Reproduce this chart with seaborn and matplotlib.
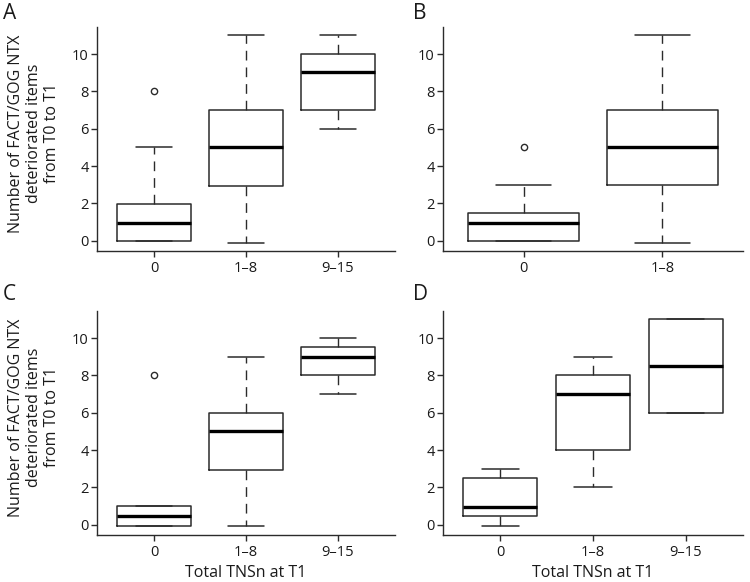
import matplotlib
matplotlib.use("Agg")
import matplotlib.pyplot as plt
import seaborn as sns

# group labels on the x axis
groups_3 = ["0", "1–8", "9–15"]
groups_2 = ["0", "1–8"]

# box summaries: whisker low, Q1, median, Q3, whisker high, outliers
a_low = [0, -0.1, 6]
a_q1 = [0, 2.95, 7]
a_med = [0.95, 5, 9.05]
a_q3 = [1.95, 7, 10]
a_high = [5, 11, 11]
a_out = [[8], [], []]

b_low = [0, -0.1]
b_q1 = [0, 3]
b_med = [0.95, 5]
b_q3 = [1.5, 7]
b_high = [3, 11]
b_out = [[5], []]

c_low = [-0.05, -0.05, 7]
c_q1 = [-0.05, 2.95, 8]
c_med = [0.45, 5, 9]
c_q3 = [1, 6, 9.5]
c_high = [1, 9, 10]
c_out = [[8], [], []]

d_low = [-0.05, 2, 6]
d_q1 = [0.45, 4, 6]
d_med = [0.95, 7, 8.5]
d_q3 = [2.5, 8, 11]
d_high = [3, 9, 11]
d_out = [[], [], []]

sns.set_style("ticks")
plt.rcParams["font.family"] = ["Open Sans", "DejaVu Sans"]

ylabel = "Number of FACT/GOG NTX\ndeteriorated items\nfrom T0 to T1"
xlabel = "Total TNSn at T1"
line_col = "#2b2b2b"


def draw_panel(ax, groups, low, q1, med, q3, high, out, show_y, show_x):
    stats = []
    for i, g in enumerate(groups):
        stats.append({"label": g, "whislo": low[i], "q1": q1[i], "med": med[i],
                      "q3": q3[i], "whishi": high[i], "fliers": out[i]})
    n = len(groups)
    ax.bxp(stats, positions=list(range(1, n + 1)), widths=0.8, capwidths=0.4,
           boxprops=dict(color=line_col, linewidth=1.1),
           medianprops=dict(color="black", linewidth=2.4),
           whiskerprops=dict(color=line_col, linewidth=1.0, linestyle=(0, (7, 5))),
           capprops=dict(color=line_col, linewidth=1.1),
           flierprops=dict(marker="o", markersize=4.5, markerfacecolor="none",
                           markeredgecolor=line_col, markeredgewidth=1.0))
    ax.set_xlim(0.5 - 0.04 * n, n + 0.5 + 0.04 * n)
    ax.set_ylim(-0.55, 11.45)
    ax.set_yticks([0, 2, 4, 6, 8, 10])
    sns.despine(ax=ax)
    for s in ["left", "bottom"]:
        ax.spines[s].set_color(line_col)
        ax.spines[s].set_linewidth(1.0)
    ax.tick_params(axis="both", labelsize=10.5, length=4.5, width=1.0,
                   color=line_col, labelcolor="#1a1a1a")
    ax.tick_params(axis="y", pad=1.5)
    ax.tick_params(axis="x", pad=3)
    if show_y:
        ax.set_ylabel(ylabel, fontsize=11.5, color="#1a1a1a", linespacing=1.15)
        ax.yaxis.set_label_coords(-0.125, 0.525)
    if show_x:
        ax.set_xlabel(xlabel, fontsize=11.5, color="#1a1a1a", labelpad=3)


fig = plt.figure(figsize=(7.5, 5.82), dpi=100)
W, H = 750, 582


def add_axes(left, right, top, bottom):
    return fig.add_axes([left / W, 1 - bottom / H, (right - left) / W, (bottom - top) / H])


ax_a = add_axes(97, 395, 27, 251)
ax_b = add_axes(443, 743, 27, 251)
ax_c = add_axes(97, 395, 311, 535)
ax_d = add_axes(443, 743, 311, 535)

draw_panel(ax_a, groups_3, a_low, a_q1, a_med, a_q3, a_high, a_out, True, False)
draw_panel(ax_b, groups_2, b_low, b_q1, b_med, b_q3, b_high, b_out, False, False)
draw_panel(ax_c, groups_3, c_low, c_q1, c_med, c_q3, c_high, c_out, True, True)
draw_panel(ax_d, groups_3, d_low, d_q1, d_med, d_q3, d_high, d_out, False, True)

for letter, x, y in [("A", 3, 3), ("B", 413, 3), ("C", 3, 284), ("D", 413, 284)]:
    fig.text(x / W, 1 - y / H, letter, fontsize=15, va="top", ha="left", color="#1a1a1a")

fig.savefig("out.png", dpi=100)
